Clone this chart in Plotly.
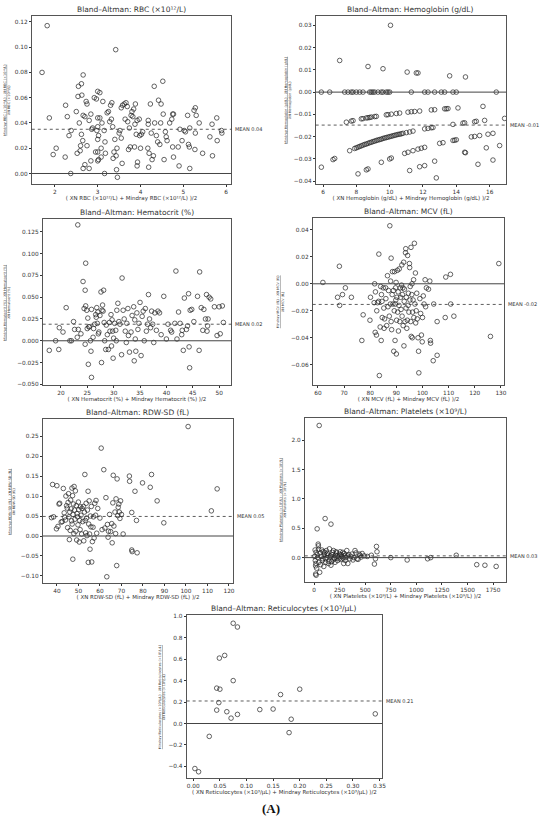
import plotly.graph_objects as go

W, H = 550, 821

# ---- RBC ----
rbc_pts = [
    (1.82, 0.117), (1.70, 0.080), (1.87, 0.044), (1.96, 0.015), (2.03, 0.020),
    (2.24, 0.013), (2.29, 0.045), (2.25, 0.054), (2.33, 0.030), (2.38, 0.034), (2.37, 0.000),
    (2.50, 0.049), (2.55, 0.069), (2.54, 0.061), (2.62, 0.071), (2.66, 0.078), (2.63, 0.062),
    (2.52, 0.016), (2.59, 0.018), (2.60, 0.022), (2.62, 0.031), (2.57, 0.040), (2.65, 0.026),
    (2.66, 0.046), (2.70, 0.045), (2.73, 0.057), (2.75, 0.055), (2.70, 0.007), (2.66, 0.004),
    (2.75, 0.022), (2.80, 0.042), (2.84, 0.047), (2.86, 0.035), (2.84, 0.010), (2.80, 0.004),
    (2.88, 0.036), (2.92, 0.060), (2.97, 0.059), (3.00, 0.065), (3.05, 0.064), (3.00, 0.044),
    (3.05, 0.044), (3.00, 0.037), (2.98, 0.034), (3.02, 0.030), (3.00, 0.027), (2.95, 0.017),
    (3.00, 0.017), (3.00, 0.010), (3.02, 0.011), (3.08, 0.020), (3.08, 0.013), (3.12, 0.057),
    (3.10, 0.040), (3.15, 0.034), (3.17, 0.025), (3.16, 0.000), (3.18, 0.016), (3.22, 0.048),
    (3.25, 0.049), (3.28, 0.041), (3.30, 0.054), (3.32, 0.043), (3.33, 0.056), (3.35, 0.037),
    (3.36, 0.012), (3.38, 0.017), (3.40, 0.027), (3.42, 0.098), (3.43, 0.014), (3.45, 0.020),
    (3.44, 0.003), (3.46, -0.003), (3.50, 0.032), (3.52, 0.034), (3.55, 0.052), (3.55, 0.028),
    (3.57, 0.008), (3.58, 0.054), (3.62, 0.055), (3.64, 0.043), (3.66, 0.056), (3.69, 0.053),
    (3.70, 0.041), (3.72, 0.019), (3.74, 0.036), (3.76, 0.021), (3.78, 0.046), (3.80, 0.049),
    (3.82, 0.045), (3.84, 0.051), (3.86, 0.021), (3.88, 0.055), (3.87, 0.039), (3.90, 0.031),
    (3.92, 0.042), (3.92, 0.006), (3.93, 0.009), (3.97, 0.043), (3.98, 0.030), (4.00, 0.020),
    (4.02, 0.031), (4.05, 0.033), (4.18, 0.042), (4.18, 0.039), (4.17, 0.020), (4.19, 0.005),
    (4.20, 0.016), (4.23, 0.055), (4.25, 0.032), (4.27, 0.011), (4.30, 0.014), (4.32, 0.069),
    (4.33, 0.040), (4.37, 0.030), (4.40, 0.025), (4.42, 0.058), (4.45, 0.023), (4.47, 0.040),
    (4.48, 0.055), (4.52, 0.073), (4.53, 0.047), (4.55, 0.011), (4.58, 0.033), (4.60, 0.029),
    (4.62, 0.026), (4.68, 0.040), (4.73, 0.043), (4.75, 0.047), (4.75, 0.021), (4.77, 0.047),
    (4.77, 0.013), (4.88, 0.021), (4.90, 0.006), (4.92, 0.035), (4.97, 0.026), (5.02, 0.034),
    (5.05, 0.033), (5.10, 0.046), (5.12, 0.023), (5.14, 0.021), (5.15, 0.036), (5.15, 0.004),
    (5.25, 0.050), (5.28, 0.052), (5.28, 0.032), (5.30, 0.046), (5.27, 0.019), (5.37, 0.040),
    (5.45, 0.016), (5.62, 0.029), (5.67, 0.039), (5.68, 0.014), (5.78, 0.044), (5.79, 0.026),
    (5.89, 0.034), (5.90, 0.032),
]
rbc_mean = 0.035

# ---- Hemoglobin ----
hgb_pts = [
    (5.9, 0.0), (6.4, 0.0), (7.3, 0.0), (7.5, 0.0), (7.7, 0.0), (7.8, 0.0), (8.0, 0.0),
    (8.2, 0.0), (8.4, 0.0), (8.8, 0.0), (8.9, 0.0), (9.0, 0.0), (9.1, 0.0), (9.3, 0.0),
    (9.5, 0.0), (9.6, 0.0), (9.8, 0.0), (9.9, 0.0), (10.0, 0.0), (11.3, 0.0), (12.1, 0.0),
    (12.3, 0.0), (12.7, 0.0), (13.1, 0.0), (13.3, 0.0), (13.8, 0.0), (14.0, 0.0), (16.4, 0.0),
    (7.0, 0.0142), (8.7, 0.0115), (9.6, 0.0105), (10.05, 0.030), (11.05, 0.009),
    (11.6, 0.0086), (11.7, 0.0086), (13.6, 0.0073), (14.55, 0.0068),
    (7.4, -0.0135), (7.7, -0.0130), (7.8, -0.0128), (8.3, -0.0120), (8.4, -0.0119),
    (8.6, -0.0116), (8.7, -0.0115), (8.8, -0.0114), (8.9, -0.0112), (9.1, -0.0110),
    (9.2, -0.0109), (9.8, -0.0102), (9.9, -0.0101), (10.1, -0.0099), (10.4, -0.0096),
    (10.6, -0.0094), (11.1, -0.0090), (11.3, -0.0088), (11.5, -0.0087), (11.8, -0.0085),
    (12.5, -0.0080), (12.7, -0.0079), (13.3, -0.0075), (13.4, -0.0075), (13.5, -0.0074),
    (14.1, -0.0071), (15.6, -0.0064),
    (13.8, -0.0145), (14.4, -0.0139), (14.5, -0.0138), (15.1, -0.0133), (15.2, -0.0131),
    (15.7, -0.0127), (16.9, -0.0118),
    (5.9, -0.0337), (6.6, -0.0303), (6.7, -0.0298), (7.6, -0.0263), (7.9, -0.0253),
    (8.0, -0.0250), (8.1, -0.0247), (8.2, -0.0244), (8.3, -0.0241), (8.4, -0.0238),
    (8.5, -0.0235), (8.6, -0.0233), (8.7, -0.0230), (8.8, -0.0227), (8.9, -0.0225),
    (9.0, -0.0222), (9.1, -0.0220), (9.2, -0.0217), (9.3, -0.0215), (9.4, -0.0213),
    (9.5, -0.0211), (9.6, -0.0208), (9.7, -0.0206), (9.8, -0.0204), (9.9, -0.0202),
    (10.0, -0.0200), (10.1, -0.0198), (10.2, -0.0196), (10.3, -0.0194), (10.4, -0.0192),
    (10.5, -0.0190), (10.6, -0.0189), (10.7, -0.0187), (10.8, -0.0185), (11.0, -0.0182),
    (11.2, -0.0179), (11.4, -0.0175), (12.1, -0.0165), (12.3, -0.0163), (12.5, -0.0160),
    (12.6, -0.0159),
    (9.5, -0.0315), (10.0, -0.0300), (10.1, -0.0296), (10.9, -0.0275), (11.1, -0.0270),
    (11.4, -0.0263), (11.7, -0.0256), (11.9, -0.0252), (12.1, -0.0248), (13.0, -0.0230),
    (13.2, -0.0227), (13.8, -0.0217), (13.9, -0.0216), (14.0, -0.0214), (14.9, -0.0201),
    (15.1, -0.0199), (15.4, -0.0195), (15.9, -0.0189), (16.2, -0.0185),
    (8.1, -0.0367), (8.6, -0.0349), (8.7, -0.0345), (11.2, -0.0352), (11.8, -0.0335),
    (12.1, -0.0330), (12.8, -0.0385), (12.7, -0.0310), (14.5, -0.0270), (14.55, -0.0272),
    (15.3, -0.0324), (15.8, -0.0250), (16.6, -0.0240), (16.2, -0.0305),
]
hgb_mean = -0.0148

# ---- Hematocrit ----
hct_pts = [
    (17.8, -0.011), (19.0, 0.000), (19.6, -0.010), (19.7, 0.015), (20.4, 0.010), (21.0, 0.038),
    (21.7, 0.000), (22.0, 0.000), (22.4, 0.022), (22.6, 0.013), (23.1, 0.004), (23.2, 0.133),
    (23.3, 0.013), (23.8, 0.008), (24.2, 0.068), (24.4, 0.037), (24.6, 0.058), (24.7, 0.089),
    (24.7, 0.040), (24.6, -0.004), (24.9, 0.035), (25.0, 0.014), (25.1, 0.026), (25.2, -0.027),
    (25.3, 0.016), (25.4, 0.016), (25.6, 0.000), (25.7, -0.012), (25.8, -0.042), (25.8, 0.036),
    (26.1, 0.004), (26.2, 0.014), (26.4, 0.019), (26.6, 0.030), (26.7, 0.027), (26.8, 0.038),
    (26.9, 0.020), (27.0, 0.033), (27.1, 0.008), (27.2, 0.010), (27.4, 0.029), (27.6, 0.056),
    (27.7, -0.025), (27.8, 0.035), (27.9, 0.041), (28.0, 0.034), (28.1, 0.058), (28.2, 0.021),
    (28.3, 0.000), (28.5, -0.010), (28.6, 0.018), (28.8, 0.007), (29.0, -0.010), (29.2, 0.021),
    (29.3, 0.011), (29.5, 0.030), (29.6, -0.006), (29.7, 0.024), (29.8, 0.011), (29.9, -0.020),
    (30.0, 0.003), (30.2, 0.020), (30.4, 0.012), (30.5, 0.000), (30.6, 0.035), (30.8, 0.043),
    (31.0, 0.022), (31.2, 0.019), (31.5, -0.016), (31.6, 0.072), (31.8, 0.035), (32.0, 0.025),
    (32.2, 0.011), (32.4, -0.002), (32.5, 0.020), (32.7, 0.037), (32.8, 0.006), (33.0, -0.013),
    (33.3, 0.010), (33.5, 0.029), (33.8, 0.039), (33.9, -0.023), (34.0, 0.024), (34.1, 0.002),
    (34.2, -0.012), (34.4, 0.032), (34.6, 0.013), (34.8, 0.020), (35.0, 0.044), (35.2, -0.017),
    (35.4, 0.028), (35.6, 0.034), (35.8, 0.000), (36.0, 0.037), (36.2, 0.011), (36.4, 0.019),
    (36.6, 0.053), (36.8, 0.025), (37.0, 0.015), (37.2, 0.034), (37.4, 0.019), (37.6, -0.002),
    (37.8, 0.032), (38.1, 0.012), (38.4, 0.034), (38.7, 0.032), (39.0, 0.007), (39.5, 0.051),
    (40.0, 0.002), (40.3, 0.019), (40.8, 0.012), (41.0, 0.010), (41.6, 0.020), (41.8, 0.080),
    (42.0, 0.002), (42.3, 0.033), (42.6, 0.020), (42.9, 0.007), (43.0, 0.012), (43.2, -0.011),
    (43.4, 0.049), (43.8, 0.013), (44.0, 0.017), (44.2, 0.054), (44.3, -0.007), (44.4, -0.031),
    (44.5, 0.035), (44.8, 0.036), (45.2, 0.022), (45.9, 0.051), (46.2, -0.011), (46.3, 0.079),
    (46.6, 0.038), (46.9, 0.012), (47.1, 0.036), (47.4, 0.025), (47.6, 0.053), (47.7, 0.011),
    (47.8, 0.017), (47.9, 0.025), (48.1, 0.050), (48.4, 0.048), (49.1, 0.039), (49.6, 0.006),
    (50.0, 0.039), (50.2, 0.008), (50.6, 0.040), (50.8, 0.021),
]
hct_mean = 0.019

# ---- MCV ----
mcv_pts = [
    (61.9, 0.001), (67.5, -0.010), (68.2, 0.013), (68.3, -0.016), (69.4, -0.008), (70.5, -0.003),
    (72.8, -0.010), (76.8, -0.042), (77.3, -0.023), (79.9, -0.027), (80.1, -0.010), (81.5, -0.014),
    (81.7, 0.000), (81.9, -0.036), (82.0, -0.006), (82.4, -0.038), (82.5, -0.020), (82.8, -0.014),
    (83.2, -0.013), (83.3, 0.022), (83.5, -0.068), (83.8, -0.032), (84.0, -0.002), (84.2, -0.042),
    (84.3, -0.008), (84.5, -0.013), (84.6, -0.025), (85.0, -0.003), (85.2, -0.018), (85.3, -0.033),
    (85.5, -0.026), (85.9, -0.003), (86.0, -0.011), (86.3, -0.031), (86.6, 0.006), (86.8, -0.017),
    (87.0, -0.005), (87.3, -0.024), (87.5, 0.043), (87.7, -0.015), (87.8, 0.002), (88.0, -0.028),
    (88.0, 0.019), (88.2, -0.034), (88.4, -0.008), (88.5, 0.009), (88.7, -0.015), (88.9, -0.005),
    (89.0, -0.050), (89.2, -0.020), (89.3, 0.009), (89.5, -0.042), (89.6, -0.015), (89.7, -0.003),
    (89.8, -0.012), (89.9, 0.001), (90.0, -0.052), (90.1, -0.027), (90.2, -0.010), (90.4, 0.010),
    (90.5, -0.021), (90.7, -0.006), (90.8, -0.035), (91.0, -0.016), (91.1, 0.011), (91.3, -0.028),
    (91.5, -0.003), (91.6, -0.010), (91.8, -0.019), (92.0, -0.001), (92.1, 0.014), (92.2, -0.024),
    (92.3, -0.008), (92.5, -0.003), (92.6, -0.031), (92.8, 0.016), (92.9, -0.046), (93.0, -0.013),
    (93.1, -0.004), (93.3, -0.028), (93.5, 0.023), (93.6, 0.026), (93.7, -0.018), (93.8, -0.010),
    (94.0, -0.033), (94.2, -0.027), (94.3, 0.021), (94.5, -0.016), (94.6, -0.007), (94.8, -0.021),
    (95.0, 0.015), (95.1, 0.012), (95.2, -0.012), (95.3, -0.002), (95.5, -0.028), (95.6, 0.027),
    (95.7, -0.039), (95.9, -0.008), (96.0, 0.000), (96.1, -0.040), (96.2, -0.021), (96.4, -0.012),
    (96.6, 0.003), (96.7, -0.025), (96.9, 0.030), (97.1, -0.015), (97.3, 0.008), (97.4, -0.029),
    (97.6, -0.020), (97.8, -0.007), (98.0, -0.026), (98.3, -0.040), (98.5, -0.050), (98.6, -0.066),
    (99.0, -0.011), (99.3, -0.022), (99.6, -0.038), (99.9, -0.043), (100.0, -0.025), (100.3, -0.009),
    (100.6, -0.015), (101.0, 0.003), (101.2, -0.017), (101.5, -0.003), (102.3, -0.004), (102.8, 0.002),
    (103.0, -0.042), (103.1, -0.044), (104.1, -0.057), (104.3, -0.015), (105.6, -0.028), (105.6, -0.053),
    (108.7, -0.025), (108.9, 0.005), (110.7, 0.007), (110.8, -0.015), (112.0, -0.024), (126.0, -0.039),
    (129.2, 0.015),
]
mcv_mean = -0.0153

# ---- RDW-SD ----
rdw_pts = [
    (37.5, 0.046), (38.0, 0.129), (38.5, 0.048), (39.8, 0.018), (40.0, 0.126), (40.5, 0.024),
    (41.0, 0.080), (41.3, 0.082), (42.0, 0.035), (42.5, 0.036), (43.0, 0.119), (43.4, 0.058),
    (43.6, 0.047), (44.0, 0.040), (44.2, 0.100), (44.5, 0.076), (44.8, 0.070), (45.0, 0.021),
    (45.2, 0.084), (45.4, 0.106), (45.6, 0.048), (45.8, -0.009), (46.0, 0.060), (46.2, 0.014),
    (46.4, 0.090), (46.6, 0.068), (46.8, 0.038), (47.0, 0.120), (47.1, 0.030), (47.3, 0.101),
    (47.4, -0.058), (47.5, 0.054), (47.7, 0.080), (47.9, 0.006), (48.0, 0.124), (48.2, 0.065),
    (48.4, 0.042), (48.6, 0.113), (48.8, 0.012), (49.0, 0.076), (49.2, -0.010), (49.4, 0.056),
    (49.6, 0.048), (49.8, 0.028), (50.0, 0.085), (50.2, 0.066), (50.4, -0.015), (50.6, 0.039),
    (50.8, 0.016), (51.0, 0.073), (51.2, 0.052), (51.5, 0.005), (51.7, 0.069), (52.0, 0.036),
    (52.3, 0.074), (52.5, -0.012), (52.8, 0.060), (53.0, 0.154), (53.2, 0.039), (53.4, 0.008),
    (53.6, 0.082), (53.8, 0.045), (54.0, 0.001), (54.2, 0.065), (54.5, 0.112), (54.6, -0.066),
    (54.8, 0.030), (55.0, 0.088), (55.2, 0.005), (55.4, -0.033), (55.6, 0.050), (55.8, 0.023),
    (56.0, 0.074), (56.2, -0.065), (56.5, -0.014), (56.8, 0.022), (57.0, 0.048), (57.3, -0.005),
    (57.6, 0.082), (58.0, 0.052), (58.2, 0.089), (58.5, 0.007), (59.0, 0.069), (60.0, 0.045),
    (60.6, 0.220), (61.0, 0.016), (61.8, 0.166), (62.3, 0.020), (62.8, 0.096), (63.2, -0.102),
    (63.5, 0.029), (63.8, -0.003), (64.0, 0.012), (64.5, 0.054), (65.0, 0.011), (65.5, 0.031),
    (65.7, -0.017), (66.0, 0.083), (66.2, 0.152), (66.5, 0.025), (67.0, 0.060), (67.3, 0.006),
    (67.5, 0.093), (67.8, -0.074), (68.0, 0.143), (68.3, 0.051), (68.5, 0.072), (68.8, 0.080),
    (69.0, 0.060), (69.3, 0.044), (69.6, 0.088), (70.0, 0.054), (70.8, 0.005), (73.7, 0.150),
    (73.8, 0.137), (74.8, 0.059), (74.8, -0.035), (75.0, -0.039), (76.3, 0.112), (77.0, 0.039),
    (77.3, -0.042), (79.8, 0.133), (83.4, 0.122), (84.0, 0.154), (86.6, 0.088), (89.7, 0.033),
    (101.0, 0.274), (111.8, 0.063), (114.5, 0.118),
]
rdw_mean = 0.049

# ---- Platelets ----
plt_pts = [
    (50, 2.25), (108, 0.665), (165, 0.57), (30, 0.49), (15, -0.28), (20, -0.30), (15, -0.14),
    (25, -0.18), (55, -0.25), (40, 0.23), (42, 0.20), (10, 0.13), (20, 0.09), (30, 0.05),
    (45, 0.14), (60, 0.08), (70, 0.02), (80, -0.05), (90, 0.10), (100, 0.05), (110, -0.02),
    (120, 0.12), (130, 0.07), (140, -0.10), (150, 0.15), (160, 0.03), (170, -0.07), (180, 0.09),
    (190, 0.12), (200, -0.02), (210, 0.04), (220, 0.08), (230, -0.05), (240, 0.01), (250, 0.06),
    (260, -0.03), (270, 0.02), (280, 0.09), (290, -0.10), (300, 0.04), (310, 0.00), (320, 0.12),
    (330, -0.10), (340, 0.05), (360, 0.02), (380, -0.04), (400, 0.12), (410, 0.08), (420, -0.02),
    (440, 0.06), (460, 0.01), (490, 0.03), (520, 0.02), (560, 0.04), (590, -0.11), (600, -0.02),
    (610, 0.19), (615, 0.10), (750, 0.00), (910, -0.04), (1110, -0.02), (1140, 0.00), (1390, 0.04),
    (1590, -0.12), (1670, -0.13), (1780, -0.15),
    (5, 0.02), (12, -0.05), (18, -0.10), (35, 0.00), (48, -0.08), (65, -0.12), (75, 0.13),
    (85, -0.02), (95, -0.15), (105, 0.09), (115, -0.08), (125, 0.00), (135, 0.04), (145, -0.06),
    (155, 0.01), (165, -0.13), (175, 0.05), (185, -0.04), (195, 0.00), (205, -0.08), (215, 0.10),
    (225, 0.03), (245, -0.02), (255, 0.10), (265, 0.05), (285, -0.01), (295, 0.07), (305, -0.05),
    (325, 0.03), (350, -0.02), (370, 0.06), (390, 0.00), (430, -0.03), (450, 0.04), (470, 0.07),
]
plt_mean = 0.03

# ---- Reticulocytes ----
ret_pts = [
    (0.003, -0.42), (0.010, -0.45), (0.030, -0.12), (0.044, 0.33), (0.044, 0.125), (0.048, 0.195),
    (0.049, 0.61), (0.050, 0.32), (0.059, 0.635), (0.063, 0.11), (0.071, 0.05), (0.075, 0.935),
    (0.075, 0.40), (0.083, 0.90), (0.083, 0.085), (0.125, 0.13), (0.150, 0.135), (0.164, 0.27),
    (0.180, -0.085), (0.184, 0.04), (0.200, 0.32), (0.342, 0.09),
]
ret_mean = 0.21

panels = [
    dict(pts=rbc_pts, mean=rbc_mean, label="MEAN 0.04", name="RBC (×10¹²/L)",
         box=(32, 233, 14, 183), xr=[1.46, 6.12], yr=[-0.0084, 0.1247],
         xd=1, yd=0.02, yf=".2f", xf="", ysh=-25),
    dict(pts=hgb_pts, mean=hgb_mean, label="MEAN -0.01", name="Hemoglobin (g/dL)",
         box=(318, 510, 14, 183), xr=[5.56, 17.0], yr=[-0.0413, 0.0342],
         xd=2, yd=0.01, yf=".2f", xf="", ysh=-28),
    dict(pts=hct_pts, mean=hct_mean, label="MEAN 0.02", name="Hematocrit (%)",
         box=(43, 233, 218, 385), xr=[16.55, 52.3], yr=[-0.0509, 0.1398],
         xd=5, yd=0.025, yf=".3f", xf="", ysh=-36),
    dict(pts=mcv_pts, mean=mcv_mean, label="MEAN -0.02", name="MCV (fL)",
         box=(315, 508, 217, 385), xr=[58.0, 131.3], yr=[-0.0751, 0.0488],
         xd=10, yd=0.02, yf=".2f", xf="", ysh=-33),
    dict(pts=rdw_pts, mean=rdw_mean, label="MEAN 0.05", name="RDW-SD (fL)",
         box=(43, 235, 419, 584), xr=[33.4, 122.0], yr=[-0.118, 0.293],
         xd=10, yd=0.05, yf=".2f", xf="", ysh=-31),
    dict(pts=plt_pts, mean=plt_mean, label="MEAN 0.03", name="Platelets (×10⁹/L)",
         box=(307, 510, 418, 583), xr=[-91, 1879], yr=[-0.418, 2.378],
         xd=250, yd=0.5, yf=".1f", xf="", ysh=-22),
    dict(pts=ret_pts, mean=ret_mean, label="MEAN 0.21", name="Reticulocytes (×10³/μL)",
         box=(188, 385, 616, 780), xr=[-0.0125, 0.355], yr=[-0.51, 1.012],
         xd=0.05, yd=0.2, yf=".1f", xf=".2f", ysh=-25),
]

FONT = "DejaVu Sans"
TXT = "#333333"

fig = go.Figure()
layout = dict(width=W, height=H, margin=dict(l=0, r=0, t=0, b=0),
              plot_bgcolor="white", paper_bgcolor="white", showlegend=False,
              font=dict(family=FONT, color=TXT))
shapes, annotations = [], []

for i, p in enumerate(panels, start=1):
    sfx = "" if i == 1 else str(i)
    xa, ya = "x" + sfx, "y" + sfx
    x0, x1, y0, y1 = p["box"]
    xs = [a for a, b in p["pts"]]
    ys = [b for a, b in p["pts"]]
    fig.add_trace(go.Scatter(
        x=xs, y=ys, mode="markers", xaxis=xa, yaxis=ya,
        marker=dict(symbol="circle-open", size=4.6, color="#222222", line=dict(width=0.7)),
    ))
    axis_common = dict(showline=True, mirror=True, linecolor="#555555", linewidth=0.8,
                       showgrid=False, zeroline=False, ticks="outside", ticklen=2,
                       tickwidth=0.6, tickcolor="#333333",
                       tickfont=dict(size=5.8, color=TXT))
    layout["xaxis" + sfx] = dict(axis_common, domain=[x0 / W, x1 / W], anchor=ya,
                                 range=p["xr"], dtick=p["xd"], tickformat=p["xf"],
                                 title=dict(text=f"( XN {p['name']} + Mindray {p['name']} )/2",
                                            font=dict(size=5.5, color=TXT), standoff=0))
    layout["yaxis" + sfx] = dict(axis_common, domain=[1 - y1 / H, 1 - y0 / H], anchor=xa,
                                 range=p["yr"], dtick=p["yd"], tickformat=p["yf"])
    # zero line and mean line
    shapes.append(dict(type="line", xref=xa + " domain", yref=ya, x0=0, x1=1,
                       y0=0, y1=0, line=dict(color="#444444", width=1)))
    shapes.append(dict(type="line", xref=xa + " domain", yref=ya, x0=0, x1=1,
                       y0=p["mean"], y1=p["mean"], line=dict(color="#333333", width=0.8, dash="dot")))
    annotations.append(dict(text=p["label"], xref=xa + " domain", yref=ya, x=1, y=p["mean"],
                            xanchor="left", yanchor="middle", xshift=2, showarrow=False,
                            font=dict(size=5, color=TXT)))
    annotations.append(dict(text=f"Bland–Altman: {p['name']}", xref=xa + " domain",
                            yref=ya + " domain", x=0.5, y=1, xanchor="center", yanchor="bottom",
                            showarrow=False, font=dict(size=7.5, color=TXT)))
    annotations.append(dict(text=f"<u>Mindray {p['name']} - XN {p['name']}</u><br>XN {p['name']}",
                            xref=xa + " domain", yref=ya + " domain", x=0, y=0.5,
                            xanchor="center", yanchor="middle",
                            xshift=p["ysh"], textangle=-90, showarrow=False,
                            font=dict(size=3.4, color=TXT)))

annotations.append(dict(text="<b>(A)</b>", xref="paper", yref="paper", x=273 / W, y=1 - 810 / H,
                        xanchor="center", yanchor="middle", showarrow=False,
                        font=dict(family="Liberation Serif", size=13, color="#111111")))

layout["shapes"] = shapes
layout["annotations"] = annotations
fig.update_layout(**layout)

fig.write_html("out.html", config={"displayModeBar": False},
               post_script="document.body.style.margin='0';")
